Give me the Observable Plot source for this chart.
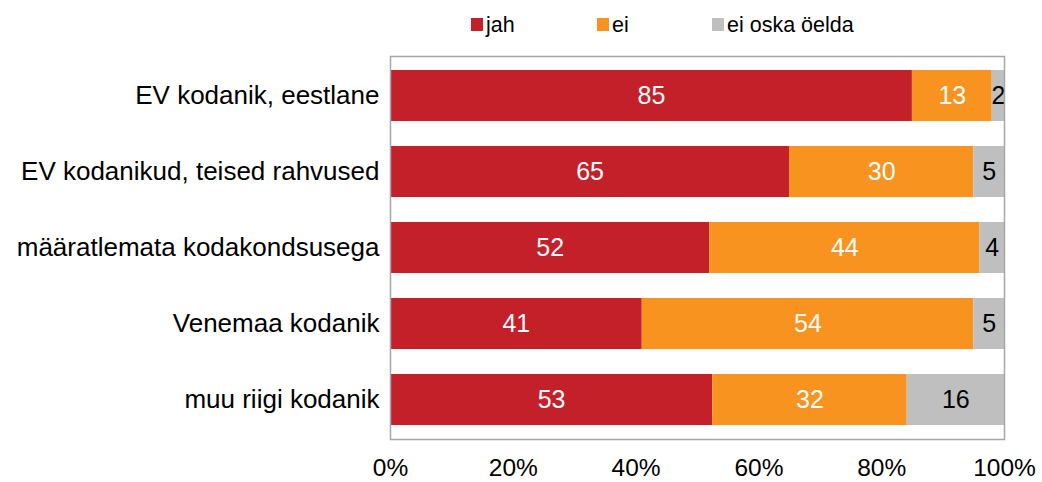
<!DOCTYPE html>
<html>
<head>
<meta charset="utf-8">
<script src="https://cdn.jsdelivr.net/npm/d3@7"></script>
<script src="https://cdn.jsdelivr.net/npm/@observablehq/plot@0.6"></script>
<style>
  body { margin: 0; background: #fff; font-family: "Liberation Sans", Arial, sans-serif; }
  #wrap { position: relative; width: 1042px; height: 482px; }
  #legend { position: relative; width: 1042px; height: 44px; font-size: 21.5px; color: #000; }
  .sw { position: absolute; top: 18px; width: 12px; height: 13px; }
  .lt { position: absolute; top: 10px; line-height: 30px; height: 30px; white-space: nowrap; }
  svg { display: block; }
</style>
</head>
<body>
<div id="wrap">
  <div id="legend"></div>
  <div id="chart"></div>
</div>
<script>
const groups = ["EV kodanik, eestlane", "EV kodanikud, teised rahvused", "määratlemata kodakondsusega", "Venemaa kodanik", "muu riigi kodanik"];
const answers = ["jah", "ei", "ei oska öelda"];
const jah = [85, 65, 52, 41, 53];
const ei = [13, 30, 44, 54, 32];
const eos = [2, 5, 4, 5, 16];
const colors = ["#C4202A", "#F7931E", "#BFBFBF"];
const xTicks = [0, 0.2, 0.4, 0.6, 0.8, 1];

const series = [jah, ei, eos];
const data = [];
groups.forEach((g, i) => {
  answers.forEach((a, j) => data.push({group: g, answer: a, value: series[j][i]}));
});

// legend
const legendPos = [471, 597, 712];
const legend = document.getElementById("legend");
answers.forEach((a, i) => {
  const sw = document.createElement("div");
  sw.className = "sw";
  sw.style.left = legendPos[i] + "px";
  sw.style.background = colors[i];
  legend.appendChild(sw);
  const t = document.createElement("div");
  t.className = "lt";
  t.style.left = (legendPos[i] + 15) + "px";
  t.textContent = a;
  legend.appendChild(t);
});

const stackOpts = {x: "value", y: "group", z: "answer", offset: "normalize", order: answers};

const chart = Plot.plot({
  width: 1042,
  height: 438,
  marginLeft: 390,
  marginRight: 38,
  marginTop: 12,
  marginBottom: 43,
  style: {fontFamily: "Liberation Sans, Arial, sans-serif", fontSize: "24px", color: "#000", background: "#fff"},
  x: {domain: [0, 1], ticks: xTicks, tickFormat: d3.format(".0%"), tickSize: 0, label: null},
  y: {domain: groups, paddingInner: 0.334, paddingOuter: 0.167, tickSize: 0, label: null},
  color: {domain: answers, range: colors},
  marks: [
    Plot.barX(data, Plot.stackX({...stackOpts, fill: "answer"})),
    Plot.text(data, Plot.stackX({...stackOpts, text: d => d.answer === "ei oska öelda" ? "" : String(d.value), fill: "white", fontSize: 25})),
    Plot.text(data, Plot.stackX({...stackOpts, text: d => d.answer === "ei oska öelda" ? String(d.value) : "", fill: "black", fontSize: 25})),
    Plot.frame({stroke: "#A6A6A6", strokeWidth: 1.5}),
    Plot.axisX({ticks: xTicks, tickFormat: d3.format(".0%"), tickSize: 0, tickPadding: 19, fontSize: 24.5, label: null}),
    Plot.axisY({tickSize: 0, tickPadding: 11, fontSize: 26, label: null})
  ]
});
document.getElementById("chart").appendChild(chart);
</script>
</body>
</html>
